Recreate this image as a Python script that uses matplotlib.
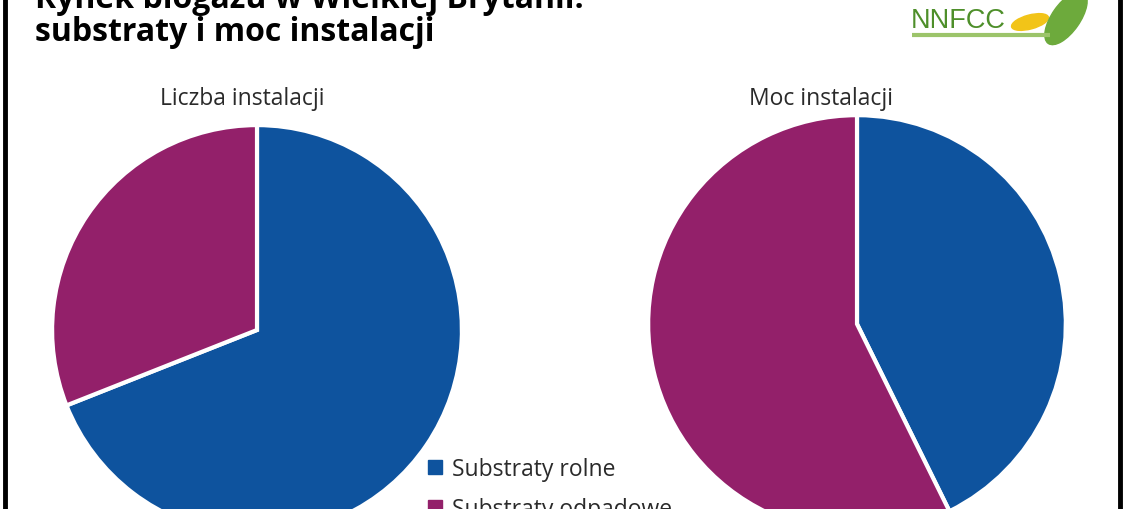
import matplotlib.pyplot as plt
from matplotlib.patches import Ellipse, Rectangle
from matplotlib.lines import Line2D

W, H = 1132, 509

title_lines = ["Rynek biogazu w Wielkiej Brytanii:", "substraty i moc instalacji"]
pie_titles = ["Liczba instalacji", "Moc instalacji"]
categories = ["Substraty rolne", "Substraty odpadowe"]
count_share = [69, 31]
power_share = [42.7, 57.3]
colors = ["#0E539E", "#93206A"]

plt.rcParams["font.family"] = ["Open Sans", "DejaVu Sans"]

fig = plt.figure(figsize=(W / 100, H / 100), dpi=100)


def px_axes(cx, cy, r):
    # square axes centred on (cx, cy) in pixel coords from the top-left
    return fig.add_axes([(cx - r) / W, (H - cy - r) / H, 2 * r / W, 2 * r / H])


def draw_pie(ax, values):
    ax.pie(values, colors=colors, startangle=90, counterclock=False,
           radius=1, wedgeprops=dict(edgecolor="white", linewidth=3))
    ax.set_xlim(-1.02, 1.02)
    ax.set_ylim(-1.02, 1.02)
    ax.set_aspect("auto")
    ax.axis("off")


ax1 = px_axes(257, 330, 209)
draw_pie(ax1, count_share)
ax2 = px_axes(857, 324, 213)
draw_pie(ax2, power_share)

# pie titles
fig.text(242 / W, 1 - 105 / H, pie_titles[0], ha="center", va="baseline",
         fontsize=16.5, color="#2a2a2a")
fig.text(821 / W, 1 - 105 / H, pie_titles[1], ha="center", va="baseline",
         fontsize=16.5, color="#2a2a2a")

# main title
fig.text(35 / W, 1 - 8 / H, title_lines[0], ha="left", va="baseline",
         fontsize=23, fontweight="bold", color="black")
fig.text(35 / W, 1 - 41 / H, title_lines[1], ha="left", va="baseline",
         fontsize=23, fontweight="bold", color="black")

# legend
for i, (lab, col) in enumerate(zip(categories, colors)):
    yc = 467 + i * 40
    fig.patches.append(Rectangle((428 / W, 1 - (yc + 7) / H), 14 / W, 14 / H,
                                 transform=fig.transFigure, color=col))
    fig.text(452 / W, 1 - yc / H, lab, ha="left", va="center_baseline",
             fontsize=16.5, color="#2a2a2a")

# logo
lax = fig.add_axes([0, 0, 1, 1], zorder=-1)
lax.set_xlim(0, W)
lax.set_ylim(H, 0)
lax.axis("off")
lax.text(911, 28, "NNFCC", ha="left", va="baseline", fontsize=19.5,
         color="#4E8F2A", family=["Liberation Sans", "DejaVu Sans"])
lax.plot([912, 1050], [35, 35], color="#9CC46A", lw=3, solid_capstyle="butt")
lax.add_patch(Ellipse((1030, 22), 38, 14, angle=-15, color="#F2C418"))
lax.add_patch(Ellipse((1066, 18), 62, 28, angle=-55, color="#6DAA3C"))

# frame lines
fig.add_artist(Line2D([4.5 / W, 4.5 / W], [0, 1], color="black", lw=3.5,
                      transform=fig.transFigure))
fig.add_artist(Line2D([1120 / W, 1120 / W], [0, 1], color="black", lw=3.5,
                      transform=fig.transFigure))

fig.savefig("out.png", dpi=100)
